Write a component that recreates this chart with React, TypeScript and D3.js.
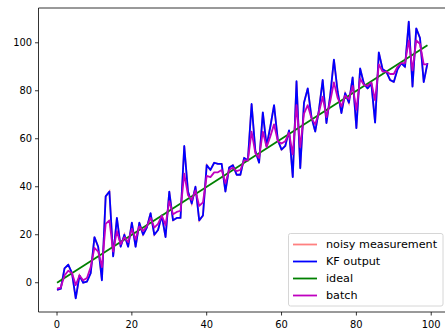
import React, { useRef, useEffect } from 'react';
import * as d3 from 'd3';

// noisy measurement (KF output follows it exactly, drawn on top)
const noisy = [
  -3, -2.5, 6, 7.5, 4, -6.5, 3, 0, 0.5, 4,
  19, 15, 1, 36, 38, 11, 27, 15, 20, 15,
  25, 15, 25, 20, 23, 29, 20, 22, 28, 19,
  38, 26, 27, 27, 57, 38, 33, 40, 26, 28,
  49, 47, 50, 49.5, 49.5, 38, 48, 49, 45, 45,
  52, 51, 74.5, 55, 50, 71, 57, 65, 74, 59.5,
  55.5, 57, 63.5, 44, 84, 47.7, 75, 81, 69, 63,
  72, 84.5, 66.5, 78, 93, 79.6, 70.7, 79, 75, 85.6,
  64.4, 89.3, 83, 81, 83, 66.7, 96, 89, 88, 84.5,
  83.7, 89, 91.5, 90, 108.8, 81.7, 106, 102, 83.6, 91.5,
];
const kfOutput = noisy;
const batch = [
  -2.5, -2, 3, 5, 4, -1, 3, 1, 2, 6.5,
  14.5, 13, 6.5, 24.5, 26, 13, 21.5, 16, 19, 17,
  22.5, 18, 23.5, 21.5, 23.5, 27, 23, 24.5, 28, 24,
  34, 28.5, 29.5, 30, 45.5, 36.5, 34.5, 38.5, 32, 33.5,
  44.5, 44, 46, 46, 47, 41.5, 47, 48, 46.5, 47,
  51, 51, 63, 54, 52, 63, 56.5, 61, 66, 59,
  58, 59, 62.5, 53.5, 74, 56.5, 70.5, 74, 68.5, 66,
  71, 77.5, 69, 75.5, 83.5, 77, 73.5, 78, 76.5, 82,
  72, 85, 82.5, 82, 83.5, 76, 91, 88, 88, 87,
  87, 90, 91.5, 91.5, 101, 88.5, 101, 99.5, 91, 91,
];
const ideal = [0, 99];
const xTicks = [0, 20, 40, 60, 80, 100];
const yTicks = [0, 20, 40, 60, 80, 100];
const legendItems = [
  { label: 'noisy measurement', color: '#ff8080' },
  { label: 'KF output', color: '#0000ff' },
  { label: 'ideal', color: '#008000' },
  { label: 'batch', color: '#bf00bf' },
];

const App = () => {
  const svgRef = useRef(null);
  const width = 445;
  const height = 333;
  const plot = { left: 38.5, right: 446, top: 8, bottom: 312 };

  useEffect(() => {
    const svg = d3.select(svgRef.current);
    svg.selectAll('*').remove();
    const font = 'DejaVu Sans, sans-serif';
    const lw = 1.8;

    const x = d3.scaleLinear().domain([-4.95, 103.95]).range([plot.left, plot.right]);
    const y = d3.scaleLinear().domain([-12.2, 114.5]).range([plot.bottom, plot.top]);

    svg.append('rect').attr('width', width).attr('height', height).attr('fill', '#fff');

    const line = d3.line<number>()
      .x((d, i) => x(i))
      .y(d => y(d));

    svg.append('path').attr('d', line(noisy)).attr('fill', 'none')
      .attr('stroke', '#ff8080').attr('stroke-width', lw);
    svg.append('path').attr('d', line(kfOutput)).attr('fill', 'none')
      .attr('stroke', '#0000ff').attr('stroke-width', lw).attr('stroke-linejoin', 'round');
    svg.append('path')
      .attr('d', d3.line<number>().x(d => x(d)).y(d => y(d))(ideal))
      .attr('fill', 'none').attr('stroke', '#008000').attr('stroke-width', lw);
    svg.append('path').attr('d', line(batch)).attr('fill', 'none')
      .attr('stroke', '#bf00bf').attr('stroke-width', lw).attr('stroke-linejoin', 'round');

    // spines
    svg.append('line').attr('x1', plot.left).attr('x2', plot.left)
      .attr('y1', plot.top).attr('y2', plot.bottom).attr('stroke', '#000').attr('stroke-width', 0.8);
    svg.append('line').attr('x1', plot.left).attr('x2', plot.right)
      .attr('y1', plot.bottom).attr('y2', plot.bottom).attr('stroke', '#000').attr('stroke-width', 0.8);
    svg.append('line').attr('x1', plot.left).attr('x2', plot.right)
      .attr('y1', plot.top).attr('y2', plot.top).attr('stroke', '#000').attr('stroke-width', 0.8);

    const xAxis = svg.append('g');
    xTicks.forEach(t => {
      xAxis.append('line').attr('x1', x(t)).attr('x2', x(t))
        .attr('y1', plot.bottom).attr('y2', plot.bottom + 3.5).attr('stroke', '#000').attr('stroke-width', 0.8);
      xAxis.append('text').attr('x', x(t)).attr('y', plot.bottom + 15.5)
        .attr('text-anchor', 'middle').style('font-family', font).style('font-size', '9.9px')
        .attr('fill', '#000').text(t);
    });

    const yAxis = svg.append('g');
    yTicks.forEach(t => {
      yAxis.append('line').attr('x1', plot.left - 3.5).attr('x2', plot.left)
        .attr('y1', y(t)).attr('y2', y(t)).attr('stroke', '#000').attr('stroke-width', 0.8);
      yAxis.append('text').attr('x', plot.left - 6.5).attr('y', y(t)).attr('dy', '0.35em')
        .attr('text-anchor', 'end').style('font-family', font).style('font-size', '9.9px')
        .attr('fill', '#000').text(t);
    });

    // legend
    const lg = svg.append('g');
    lg.append('rect').attr('x', 288.5).attr('y', 233.5).attr('width', 154.5).attr('height', 72.5)
      .attr('rx', 2).attr('fill', '#fff').attr('fill-opacity', 0.8)
      .attr('stroke', '#cccccc').attr('stroke-width', 0.8);
    legendItems.forEach((item, i) => {
      const cy = 244.5 + i * 17;
      lg.append('line').attr('x1', 293).attr('x2', 317).attr('y1', cy).attr('y2', cy)
        .attr('stroke', item.color).attr('stroke-width', lw);
      lg.append('text').attr('x', 326).attr('y', cy).attr('dy', '0.35em')
        .style('font-family', font).style('font-size', '11.2px').attr('fill', '#000')
        .text(item.label);
    });
  }, []);

  return (
    <svg ref={svgRef} width={width} height={height}
      style={{ position: 'absolute', left: 0, top: 0 }} />
  );
};

export default App;
